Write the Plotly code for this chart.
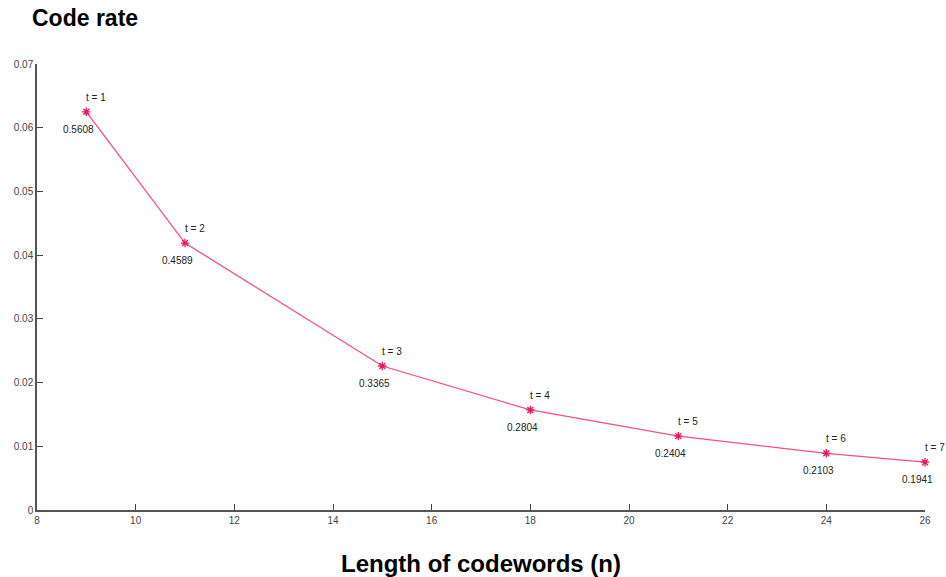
import plotly.graph_objects as go

n_values = [9, 11, 15, 18, 21, 24, 26]
code_rate = [0.0625, 0.0419, 0.0226, 0.0157, 0.0116, 0.0089, 0.0075]
t_labels = ["t = 1", "t = 2", "t = 3", "t = 4", "t = 5", "t = 6", "t = 7"]
value_labels = ["0.5608", "0.4589", "0.3365", "0.2804", "0.2404", "0.2103", "0.1941"]
x_ticks = [8, 10, 12, 14, 16, 18, 20, 22, 24, 26]
y_ticks = [0, 0.01, 0.02, 0.03, 0.04, 0.05, 0.06, 0.07]
y_tick_text = ["0", "0.01", "0.02", "0.03", "0.04", "0.05", "0.06", "0.07"]

FONT = "Arial, Liberation Sans, sans-serif"

fig = go.Figure()
fig.add_trace(go.Scatter(
    x=n_values, y=code_rate, mode="lines+markers",
    line=dict(color="#fa4d85", width=1.3),
    marker=dict(symbol="asterisk-open", size=7, color="#e8185a",
                line=dict(color="#e8185a", width=1.3)),
    cliponaxis=False, showlegend=False,
))

annotations = []
for x, y, t, v in zip(n_values, code_rate, t_labels, value_labels):
    annotations.append(dict(x=x, y=y, text=t, showarrow=False, xanchor="left",
                            yanchor="bottom", xshift=-2, yshift=7,
                            font=dict(size=10, color="#222", family=FONT)))
    annotations.append(dict(x=x, y=y, text=v, showarrow=False, xanchor="center",
                            yanchor="top", xshift=-8, yshift=-10,
                            font=dict(size=10, color="#222", family=FONT)))

annotations.append(dict(xref="paper", yref="paper", x=-0.008, y=1.07,
                        xanchor="left", yanchor="bottom",
                        text="<b>Code rate</b>", showarrow=False,
                        font=dict(size=23, color="black", family=FONT)))

fig.update_layout(
    width=946, height=577,
    margin=dict(l=37, r=21, t=64, b=67, autoexpand=False),
    paper_bgcolor="white", plot_bgcolor="white",
    font=dict(family=FONT, color="#333"),
    annotations=annotations,
    xaxis=dict(
        range=[8, 26], tickvals=x_ticks, ticks="inside", ticklen=6, tickwidth=1,
        tickcolor="#444", showline=True, linecolor="#555", linewidth=1.5,
        showgrid=False, zeroline=False, tickfont=dict(size=10, color="#444"),
        automargin=False,
        title=dict(text="<b>Length of codewords (n)</b>",
                   font=dict(size=24, color="black"), standoff=30),
    ),
    yaxis=dict(
        range=[0, 0.07], tickvals=y_ticks, ticktext=y_tick_text, ticks="inside",
        ticklen=6, tickwidth=1, tickcolor="#444", showline=True, linecolor="#555",
        linewidth=1.5, showgrid=False, zeroline=False, automargin=False,
        tickfont=dict(size=10, color="#444"),
    ),
)
fig.write_html(
    "out.html",
    config={"displayModeBar": False},
    post_script="document.body.style.margin='0';document.body.style.overflow='hidden';",
)
